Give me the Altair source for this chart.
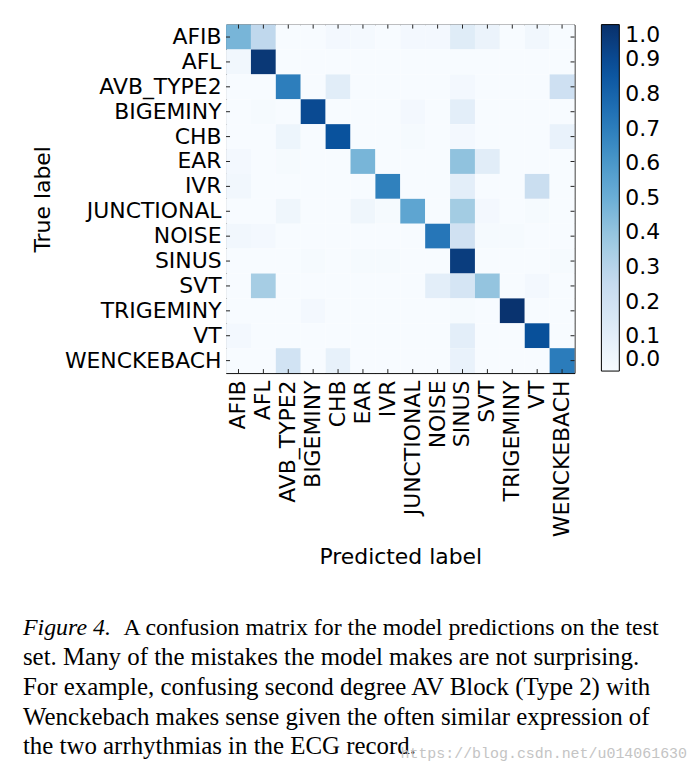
import altair as alt
import pandas as pd

labels = ["AFIB", "AFL", "AVB_TYPE2", "BIGEMINY", "CHB", "EAR", "IVR",
          "JUNCTIONAL", "NOISE", "SINUS", "SVT", "TRIGEMINY", "VT", "WENCKEBACH"]

# rows = true label, columns = predicted label (same order as labels)
row_afib = [0.47, 0.27, 0, 0, 0.02, 0.015, 0, 0.02, 0.02, 0.12, 0.06, 0, 0.03, 0]
row_afl = [0.03, 0.97, 0, 0, 0, 0, 0, 0, 0, 0, 0, 0, 0, 0]
row_avb = [0, 0, 0.70, 0, 0.11, 0, 0, 0, 0, 0.02, 0, 0, 0, 0.21]
row_bigeminy = [0, 0.01, 0, 0.90, 0, 0, 0, 0.02, 0, 0.10, 0, 0, 0, 0]
row_chb = [0, 0, 0.05, 0, 0.87, 0, 0, 0.01, 0, 0.02, 0, 0, 0, 0.07]
row_ear = [0.02, 0, 0.01, 0, 0, 0.47, 0, 0, 0, 0.41, 0.11, 0, 0, 0]
row_ivr = [0.03, 0, 0, 0, 0, 0, 0.69, 0, 0, 0.10, 0, 0, 0.23, 0]
row_junctional = [0, 0, 0.04, 0, 0, 0.04, 0.01, 0.54, 0, 0.36, 0.02, 0, 0.01, 0]
row_noise = [0.03, 0.02, 0, 0, 0, 0, 0, 0, 0.73, 0.20, 0.01, 0.01, 0, 0]
row_sinus = [0, 0, 0, 0.01, 0, 0.01, 0.01, 0, 0, 0.95, 0, 0, 0, 0.01]
row_svt = [0, 0.35, 0, 0, 0, 0, 0, 0, 0.10, 0.17, 0.40, 0, 0.02, 0]
row_trigeminy = [0, 0, 0, 0.02, 0, 0, 0, 0, 0, 0.01, 0, 0.99, 0, 0]
row_vt = [0.02, 0, 0, 0, 0, 0, 0, 0, 0, 0.10, 0, 0, 0.88, 0]
row_wenckebach = [0, 0, 0.19, 0, 0.08, 0, 0, 0, 0, 0.07, 0, 0, 0, 0.71]

rows = [row_afib, row_afl, row_avb, row_bigeminy, row_chb, row_ear, row_ivr,
        row_junctional, row_noise, row_sinus, row_svt, row_trigeminy, row_vt,
        row_wenckebach]

colorbar_ticks = [0.0, 0.1, 0.2, 0.3, 0.4, 0.5, 0.6, 0.7, 0.8, 0.9, 1.0]
blues_stops = [0, 0.125, 0.25, 0.375, 0.5, 0.625, 0.75, 0.875, 1.0]
blues_colors = ["#f7fbff", "#deebf7", "#c6dbef", "#9ecae1", "#6baed6",
                "#4292c6", "#2171b5", "#08519c", "#08306b"]

caption_lead = "Figure 4."
caption_first = "A confusion matrix for the model predictions on the test"
caption_rest = [
    "set.  Many of the mistakes the model makes are not surprising.",
    "For example, confusing second degree AV Block (Type 2) with",
    "Wenckebach makes sense given the often similar expression of",
    "the two arrhythmias in the ECG record.",
]
watermark = "https://blog.csdn.net/u014061630"

records = []
for t, row in zip(labels, rows):
    for p, v in zip(labels, row):
        records.append({"true": t, "pred": p, "value": v})
df = pd.DataFrame(records)
lab_df = pd.DataFrame({"true": labels, "pred": labels})

FONT = "DejaVu Sans"
W = 350
H = 350
TL = 4

xs = alt.Scale(domain=labels, paddingInner=0, paddingOuter=0)
ys = alt.Scale(domain=labels, paddingInner=0, paddingOuter=0)

x_axis = alt.Axis(labelAngle=-90, labelAlign="right", labelBaseline="middle",
                  labelPadding=7, ticks=False, domain=False,
                  labelFont=FONT, labelFontSize=22, labelColor="black",
                  titleFont=FONT, titleFontSize=22, titleFontWeight="normal",
                  titleColor="black", titlePadding=10, labelOverlap=False)
y_axis = alt.Axis(labelPadding=5, ticks=False, domain=False,
                  labelFont=FONT, labelFontSize=22, labelColor="black",
                  titleFont=FONT, titleFontSize=22, titleFontWeight="normal",
                  titleColor="black", titlePadding=10, labelOverlap=False)

heat = alt.Chart(df).mark_rect().encode(
    x=alt.X("pred:N", scale=xs, title="Predicted label", axis=x_axis),
    y=alt.Y("true:N", scale=ys, title="True label", axis=y_axis),
    color=alt.Color("value:Q",
                    scale=alt.Scale(domain=blues_stops, range=blues_colors),
                    legend=alt.Legend(title=None, values=colorbar_ticks, format=".1f",
                                      gradientLength=348, gradientThickness=18,
                                      gradientStrokeColor="black", gradientStrokeWidth=1,
                                      labelFont=FONT, labelFontSize=22, labelColor="black",
                                      labelOffset=6, offset=27, padding=0,
                                      direction="vertical", orient="right")),
)

tick_color = "#222222"
base = alt.Chart(lab_df)
tx_top = base.mark_rule(color=tick_color, strokeWidth=1).encode(
    x=alt.X("pred:N", scale=xs, title="Predicted label"), y=alt.value(0), y2=alt.value(TL))
tx_bot = base.mark_rule(color=tick_color, strokeWidth=1).encode(
    x=alt.X("pred:N", scale=xs, title="Predicted label"), y=alt.value(H - TL), y2=alt.value(H))
ty_left = base.mark_rule(color=tick_color, strokeWidth=1).encode(
    y=alt.Y("true:N", scale=ys, title="True label"), x=alt.value(0), x2=alt.value(TL))
ty_right = base.mark_rule(color=tick_color, strokeWidth=1).encode(
    y=alt.Y("true:N", scale=ys, title="True label"), x=alt.value(W - TL), x2=alt.value(W))

# caption below the figure (positions relative to the plot area's top-left)
CAP_X = -204
CAP_Y = 613
cap_font = dict(align="left", baseline="alphabetic", font="Liberation Serif",
                color="black")

lead_df = pd.DataFrame({"text": [caption_lead]})
cap_lead = alt.Chart(lead_df).mark_text(fontStyle="italic", fontSize=24, **cap_font).encode(
    x=alt.value(CAP_X), y=alt.value(CAP_Y), text="text:N")
first_df = pd.DataFrame({"text": [caption_first]})
cap_first = alt.Chart(first_df).mark_text(dx=101, fontSize=24, **cap_font).encode(
    x=alt.value(CAP_X), y=alt.value(CAP_Y), text="text:N")
rest_df = pd.DataFrame({"text": ["\n".join(caption_rest)]})
cap_rest = alt.Chart(rest_df).mark_text(lineBreak="\n", lineHeight=30, fontSize=25,
                                        **cap_font).encode(
    x=alt.value(CAP_X), y=alt.value(CAP_Y + 30), text="text:N")
wm_df = pd.DataFrame({"text": [watermark]})
cap_wm = alt.Chart(wm_df).mark_text(
    align="right", baseline="alphabetic", font="Liberation Mono", fontSize=15,
    color="#c4c4c4"
).encode(x=alt.value(463), y=alt.value(CAP_Y + 124), text="text:N")

chart = alt.layer(heat, tx_top, tx_bot, ty_left, ty_right,
                  cap_lead, cap_first, cap_rest, cap_wm).properties(
    width=W, height=H,
    padding={"left": 15, "top": 14, "right": 5, "bottom": 5},
).configure_view(stroke="black", strokeWidth=1)

chart.save("out.html", embed_options={"renderer": "svg", "actions": False})
